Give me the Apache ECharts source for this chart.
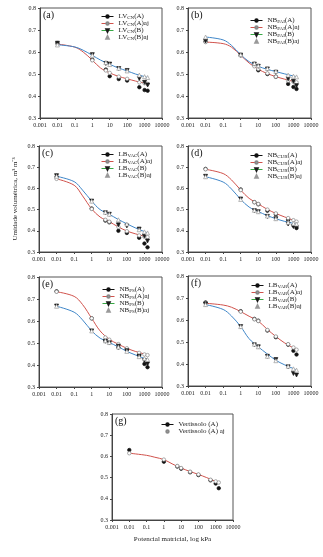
<!DOCTYPE html>
<html>
<head>
<meta charset="utf-8">
<script src="https://cdn.jsdelivr.net/npm/echarts@6/dist/echarts.min.js"></script>
<style>
html, body { margin: 0; padding: 0; background: #fff; }
#main { width: 323px; height: 557px; }
</style>
</head>
<body>
<div id="main"></div>
<script>
// potencial matricial (kPa) dos pontos medidos
var potencial = [0.01, 1, 6, 10, 33, 100, 500, 1000, 1500];
// potenciais onde as curvas ajustadas foram lidas
var curvaPot = [0.01, 0.1, 0.3, 1, 3, 10, 30, 100, 300, 1000, 1500];
var xTickLabels = ['0.001', '0.01', '0.1', '1', '10', '100', '1000', '10000'];
var yTickLabels = ['0.3', '0.4', '0.5', '0.6', '0.7', '0.8'];
var panelLetters = ['(a)', '(b)', '(c)', '(d)', '(e)', '(f)', '(g)'];
var soilNames = [['LV', 'CN'], ['NB', 'PAI'], ['LB', 'VAC'], ['NB', 'CUR'], ['NB', 'PS'], ['LB', 'VAR']];
var seriesSuffix = ['(A)', '(A)aj', '(B)', '(B)aj'];

// (a) LV CN
var lvcnA   = [0.640, 0.565, 0.520, 0.490, 0.477, 0.470, 0.440, 0.427, 0.424];
var lvcnAaj = [0.636, 0.562, 0.516, 0.505, 0.488, 0.478, 0.462, 0.458, 0.455];
var lvcnB   = [0.640, 0.588, 0.548, 0.545, 0.525, 0.516, 0.480, 0.462, 0.450];
var lvcnBaj = [0.632, 0.585, 0.552, 0.543, 0.526, 0.514, 0.495, 0.488, 0.484];
var lvcnCurvaA = [0.636, 0.622, 0.600, 0.563, 0.527, 0.505, 0.490, 0.478, 0.468, 0.458, 0.455];
var lvcnCurvaB = [0.633, 0.623, 0.608, 0.585, 0.563, 0.544, 0.528, 0.514, 0.500, 0.488, 0.484];
// (b) NB PAI
var nbpaiA   = [0.648, 0.585, 0.540, 0.517, 0.500, 0.487, 0.455, 0.441, 0.432];
var nbpaiAaj = [0.645, 0.585, 0.535, 0.523, 0.503, 0.488, 0.470, 0.465, 0.462];
var nbpaiB   = [0.650, 0.586, 0.545, 0.535, 0.523, 0.508, 0.478, 0.467, 0.447];
var nbpaiBaj = [0.668, 0.588, 0.548, 0.538, 0.525, 0.512, 0.495, 0.490, 0.487];
var nbpaiCurvaA = [0.645, 0.638, 0.622, 0.585, 0.550, 0.522, 0.503, 0.488, 0.477, 0.466, 0.462];
var nbpaiCurvaB = [0.668, 0.655, 0.630, 0.588, 0.556, 0.535, 0.522, 0.511, 0.501, 0.491, 0.487];
// (c) LB VAC
var lbvacA   = [0.655, 0.505, 0.448, 0.440, 0.400, 0.390, 0.367, 0.340, 0.322];
var lbvacAaj = [0.645, 0.503, 0.452, 0.443, 0.418, 0.398, 0.378, 0.372, 0.370];
var lbvacB   = [0.660, 0.540, 0.485, 0.478, 0.428, 0.423, 0.408, 0.375, 0.352];
var lbvacBaj = [0.657, 0.540, 0.487, 0.478, 0.452, 0.432, 0.405, 0.395, 0.390];
var lbvacCurvaA = [0.645, 0.615, 0.565, 0.503, 0.465, 0.443, 0.420, 0.399, 0.386, 0.374, 0.370];
var lbvacCurvaB = [0.657, 0.632, 0.592, 0.540, 0.500, 0.478, 0.455, 0.433, 0.414, 0.396, 0.390];
// (d) NB CUR
var nbcurA   = [0.692, 0.595, 0.535, 0.525, 0.495, 0.478, 0.452, 0.425, 0.413];
var nbcurAaj = [0.690, 0.592, 0.535, 0.527, 0.500, 0.482, 0.460, 0.450, 0.443];
var nbcurB   = [0.657, 0.550, 0.495, 0.490, 0.468, 0.457, 0.432, 0.420, 0.415];
var nbcurBaj = [0.655, 0.548, 0.497, 0.490, 0.470, 0.457, 0.440, 0.435, 0.432];
var nbcurCurvaA = [0.690, 0.670, 0.640, 0.592, 0.553, 0.527, 0.503, 0.482, 0.466, 0.450, 0.443];
var nbcurCurvaB = [0.655, 0.630, 0.597, 0.548, 0.512, 0.491, 0.473, 0.457, 0.445, 0.435, 0.432];
// (e) NB PS
var nbpsA   = [0.735, 0.612, 0.510, 0.505, 0.480, 0.470, 0.445, 0.405, 0.390];
var nbpsAaj = [0.733, 0.612, 0.525, 0.515, 0.495, 0.476, 0.455, 0.448, 0.445];
var nbpsB   = [0.668, 0.555, 0.508, 0.500, 0.485, 0.465, 0.440, 0.420, 0.405];
var nbpsBaj = [0.667, 0.555, 0.510, 0.502, 0.482, 0.462, 0.438, 0.430, 0.425];
var nbpsCurvaA = [0.733, 0.712, 0.675, 0.612, 0.555, 0.517, 0.496, 0.476, 0.462, 0.450, 0.445];
var nbpsCurvaB = [0.667, 0.640, 0.605, 0.555, 0.522, 0.502, 0.484, 0.462, 0.446, 0.430, 0.425];
// (f) LB VAR
var lbvarA   = [0.680, 0.640, 0.605, 0.597, 0.552, 0.522, 0.488, 0.460, 0.443];
var lbvarAaj = [0.676, 0.638, 0.603, 0.595, 0.555, 0.525, 0.490, 0.475, 0.465];
var lbvarB   = [0.672, 0.570, 0.487, 0.478, 0.435, 0.420, 0.387, 0.357, 0.350];
var lbvarBaj = [0.670, 0.570, 0.490, 0.478, 0.435, 0.415, 0.390, 0.378, 0.372];
var lbvarCurvaA = [0.676, 0.668, 0.658, 0.638, 0.617, 0.595, 0.560, 0.525, 0.497, 0.473, 0.465];
var lbvarCurvaB = [0.670, 0.648, 0.618, 0.570, 0.515, 0.478, 0.448, 0.417, 0.397, 0.379, 0.372];
// (g) Vertissolo
var vertA   = [0.630, 0.575, 0.552, 0.542, 0.525, 0.512, 0.487, 0.472, 0.450];
var vertAaj = [0.615, 0.585, 0.555, 0.545, 0.528, 0.515, 0.490, 0.482, 0.477];
var vertCurvaA = [0.615, 0.605, 0.596, 0.585, 0.565, 0.545, 0.530, 0.515, 0.500, 0.482, 0.477];

var panelData = [
	[lvcnA, lvcnAaj, lvcnB, lvcnBaj],
	[nbpaiA, nbpaiAaj, nbpaiB, nbpaiBaj],
	[lbvacA, lbvacAaj, lbvacB, lbvacBaj],
	[nbcurA, nbcurAaj, nbcurB, nbcurBaj],
	[nbpsA, nbpsAaj, nbpsB, nbpsBaj],
	[lbvarA, lbvarAaj, lbvarB, lbvarBaj]
];
var panelCurves = [
	[lvcnCurvaA, lvcnCurvaB],
	[nbpaiCurvaA, nbpaiCurvaB],
	[lbvacCurvaA, lbvacCurvaB],
	[nbcurCurvaA, nbcurCurvaB],
	[nbpsCurvaA, nbpsCurvaB],
	[lbvarCurvaA, lbvarCurvaB]
];

// layout: left, top, width, height of each plot + legend position
var boxes = [
	{l: 40, t: 8, w: 122, h: 110, ll: 101, lt: 13},
	{l: 188, t: 8, w: 123, h: 110, ll: 250, lt: 17},
	{l: 39, t: 146, w: 123, h: 106, ll: 101, lt: 151},
	{l: 188, t: 146, w: 123, h: 106, ll: 250, lt: 152},
	{l: 39, t: 277, w: 123, h: 110, ll: 102, lt: 286},
	{l: 188, t: 276, w: 123, h: 110, ll: 251, lt: 282},
	{l: 112, t: 414, w: 121, h: 106, ll: 161, lt: 421}
];

var serif = 'Liberation Serif';
var styles = [
	{symbol: 'circle', size: 3.5, rot: 0, fill: '#111', border: '#111', line: '#111', legendLine: 1},
	{symbol: 'circle', size: 3.5, rot: 0, fill: '#fff', border: '#888', line: '#d0524c', legendLine: 1},
	{symbol: 'triangle', size: 4, rot: 180, fill: '#1a1a1a', border: '#1a1a1a', line: '#38a845', legendLine: 1},
	{symbol: 'triangle', size: 4, rot: 0, fill: '#fff', border: '#999', line: '#3f86c8', legendLine: 0}
];
var curveColors = ['#d0524c', '#3f86c8'];

function pairs(xs, vals) {
	var out = [];
	for (var i = 0; i < vals.length; i++) out.push([xs[i], vals[i]]);
	return out;
}

var grids = [], xAxes = [], yAxes = [], series = [], legends = [], graphics = [];

function addPanel(idx, names, dataSets, styleIdx, curves) {
	var b = boxes[idx];
	grids.push({left: b.l, top: b.t, width: b.w, height: b.h, show: true, borderColor: '#555', borderWidth: 1, backgroundColor: 'transparent'});
	var xa = {
		type: 'log', logBase: 10, min: 0.001, max: 10000, gridIndex: idx,
		axisLine: {lineStyle: {color: '#444', width: 1}},
		axisTick: {inside: false, length: 2, lineStyle: {color: '#444'}},
		minorTick: {show: false},
		splitLine: {show: false},
		axisLabel: {
			fontFamily: serif, fontSize: 6, color: '#222', margin: 4,
			formatter: function (v) { return xTickLabels[Math.round(Math.log10(v)) + 3]; }
		}
	};
	var ya = {
		type: 'value', min: 0.3, max: 0.8, interval: 0.1, gridIndex: idx,
		axisLine: {show: true, lineStyle: {color: '#444', width: 1}},
		axisTick: {show: true, inside: false, length: 2, lineStyle: {color: '#444'}},
		splitLine: {show: false},
		axisLabel: {
			fontFamily: serif, fontSize: 6, color: '#222', margin: 4,
			formatter: function (v) { return yTickLabels[Math.round((v - 0.3) * 10)]; }
		}
	};
	if (idx === 2) {
		ya.name = 'Umidade volumétrica, m³ m⁻³';
		ya.nameLocation = 'middle';
		ya.nameGap = 20;
		ya.nameTextStyle = {fontFamily: serif, fontSize: 7, color: '#222'};
	}
	if (idx === 6) {
		xa.name = 'Potencial matricial, log kPa';
		xa.nameLocation = 'middle';
		xa.nameGap = 16;
		xa.nameTextStyle = {fontFamily: serif, fontSize: 7, color: '#222'};
	}
	xAxes.push(xa);
	yAxes.push(ya);

	// fitted curves (no legend entry)
	for (var c = 0; c < curves.length; c++) {
		series.push({
			name: 'curva' + idx + '_' + c, type: 'line', xAxisIndex: idx, yAxisIndex: idx,
			data: pairs(curvaPot, curves[c]), smooth: 0.35, showSymbol: false, symbol: 'none',
			lineStyle: {color: curveColors[c], width: 1}, z: 2,
			emphasis: {disabled: true}, animation: false
		});
	}

	var legendData = [];
	for (var k = 0; k < dataSets.length; k++) {
		var st = styles[styleIdx[k]];
		series.push({
			name: names[k], type: 'line', xAxisIndex: idx, yAxisIndex: idx,
			data: pairs(potencial, dataSets[k]),
			symbol: st.symbol, symbolSize: st.size, symbolRotate: st.rot, showSymbol: true,
			itemStyle: {color: st.fill, borderColor: st.border, borderWidth: 0.7},
			lineStyle: {color: st.line, width: 1, opacity: 0},
			z: 3,
			emphasis: {disabled: true}, animation: false
		});
		legendData.push({name: names[k], lineStyle: {color: st.line, width: 1, opacity: st.legendLine}});
	}
	legends.push({
		data: legendData, orient: 'vertical', left: b.ll, top: b.lt,
		itemWidth: 12, itemHeight: 3, itemGap: 0, padding: 0,
		selectedMode: false,
		textStyle: {
			fontFamily: serif, fontSize: 7, color: '#222', lineHeight: 7,
			rich: {
				n: {fontFamily: serif, fontSize: 7, color: '#222', lineHeight: 7},
				s: {fontFamily: serif, fontSize: 5, color: '#222', lineHeight: 5, padding: [2, 0, 0, 0], verticalAlign: 'bottom'}
			}
		},
		formatter: function (name) {
			var p = name.split('|');
			return '{n|' + p[0] + '}' + (p[1] ? '{s|' + p[1] + '}' : '') + '{n|' + p[2] + '}';
		}
	});
	graphics.push({
		type: 'text', left: b.l + 3, top: b.t + 2,
		style: {text: panelLetters[idx], fontFamily: serif, fontSize: 10, fill: '#111'}
	});
}

for (var p = 0; p < 6; p++) {
	var nm = [];
	for (var k = 0; k < 4; k++) nm.push(soilNames[p][0] + '|' + soilNames[p][1] + '|' + seriesSuffix[k]);
	addPanel(p, nm, panelData[p], [0, 1, 2, 3], panelCurves[p]);
}
addPanel(6, ['Vertissolo (A)||', 'Vertissolo (A) aj||'], [vertA, vertAaj], [0, 1], [vertCurvaA]);
// legend of (g): open circle without line
legends[6].data[1].lineStyle.opacity = 0;
legends[6].formatter = function (name) { return '{n|' + name.split('|')[0] + '}'; };

var option = {
	animation: false,
	grid: grids, xAxis: xAxes, yAxis: yAxes,
	legend: legends, series: series, graphic: graphics
};
var myChart = echarts.init(document.getElementById('main'));
myChart.setOption(option, true);
</script>
</body>
</html>
